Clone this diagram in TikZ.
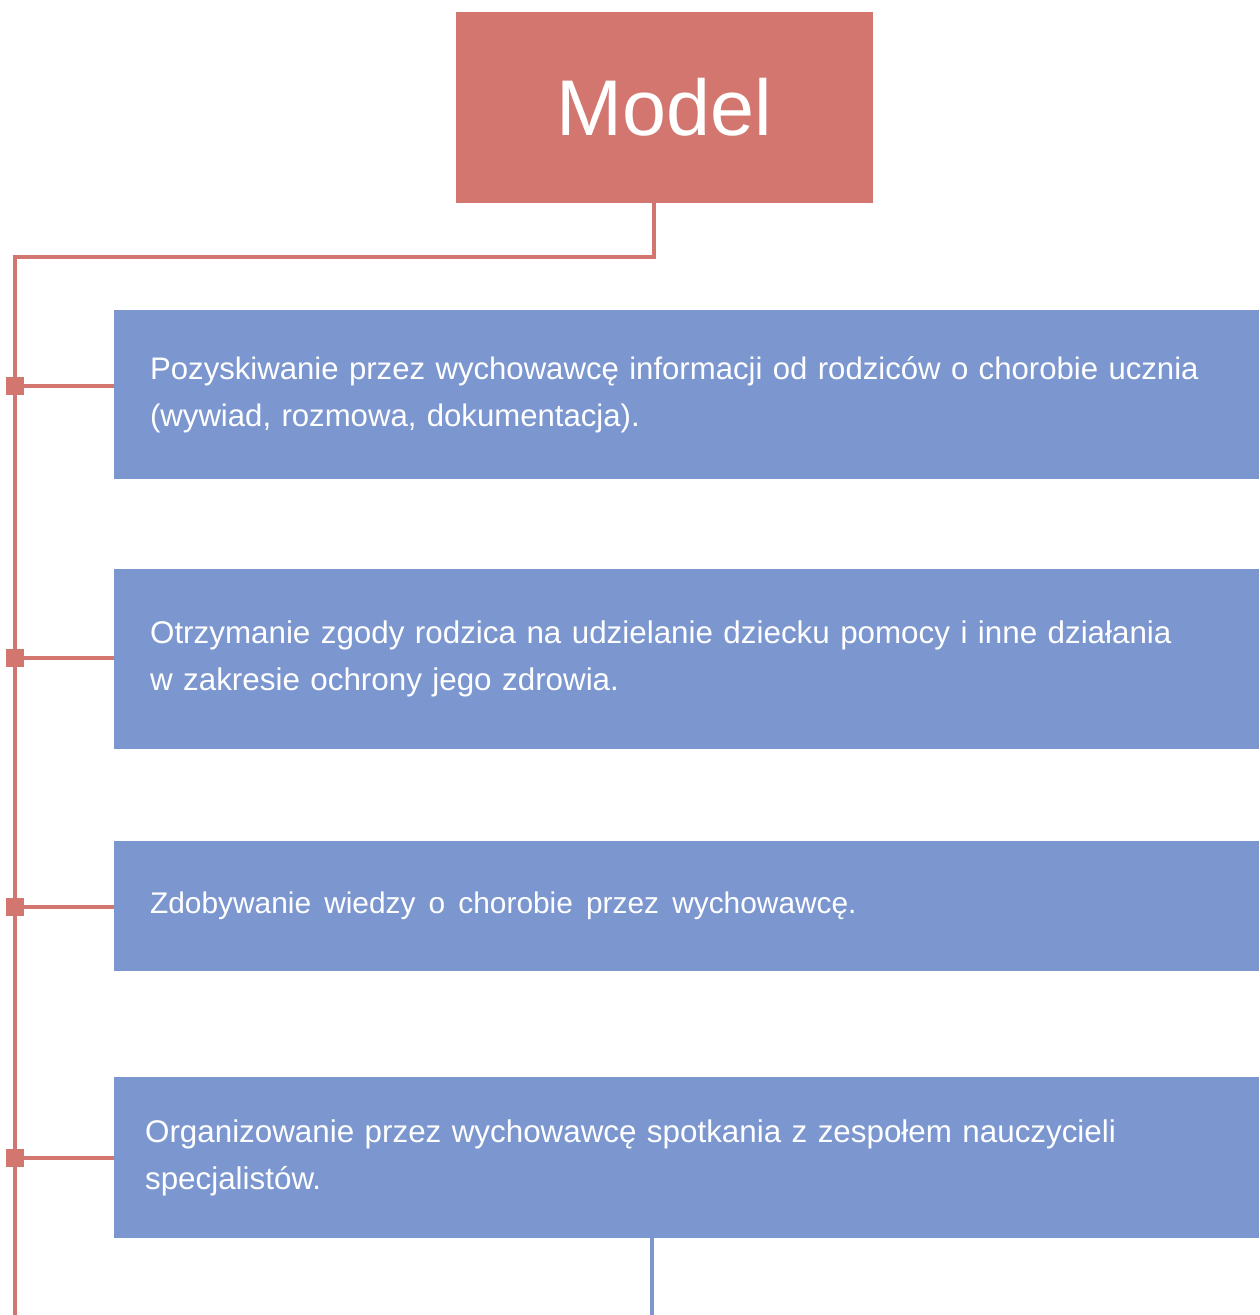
\documentclass[tikz,border=0pt]{standalone}
\usepackage{fontspec}
\setmainfont{Liberation Sans}
\definecolor{modelred}{HTML}{D37670}
\definecolor{stepblue}{HTML}{7C97D0}

\begin{document}
\begin{tikzpicture}[x=0.02cm, y=-0.02cm,
    stepbox/.style={draw=none, rectangle, fill=stepblue, text=white, minimum width=22.9cm,
        text width=21.46cm, inner xsep=0.72cm, align=left,
        font=\fontsize{17.85}{26.7}\selectfont},
    link/.style={draw=modelred, line width=2.1pt},
    sq/.style={rectangle, fill=modelred, minimum size=0.35cm, inner sep=0pt}]

        \useasboundingbox (0,0) rectangle (1259,1315);

        \node[name=model, rectangle, fill=modelred, text=white, minimum width=8.34cm, minimum height=3.82cm,
            font=\fontsize{45}{50}\selectfont] at (664.5,107.5) {Model};

        \node[name=b1, stepbox, minimum height=3.38cm, font=\fontsize{17.72}{26.7}\selectfont] at (686.5,394.5)
            {Pozyskiwanie przez wychowawcę informacji od rodziców o chorobie ucznia\\(wywiad, rozmowa, dokumentacja).};
        \node[name=b2, stepbox, minimum height=3.6cm] at (686.5,659)
            {Otrzymanie zgody rodzica na udzielanie dziecku pomocy i inne działania\\w zakresie ochrony jego zdrowia.};
        \node[name=b3, stepbox, minimum height=2.6cm, font=\fontsize{17}{26.7}\selectfont] at (686.5,906)
            {\spaceskip=0.44em Zdobywanie wiedzy o chorobie przez wychowawcę.};
        \node[name=b4, stepbox, minimum height=3.22cm, inner xsep=0.62cm, text width=21.66cm] at (686.5,1157.5)
            {Organizowanie przez wychowawcę spotkania z zespołem nauczycieli\\specjalistów.};

        \coordinate (drop) at (654,203);
        \coordinate (corner) at (15,257);
        \coordinate (trunkend) at (15,1315);
        \coordinate (bottomend) at (652,1315);

        \draw[link] (drop) |- (corner) -- (trunkend);
        \draw[draw=stepblue, line width=2.1pt] (b4.south -| bottomend) -- (bottomend);

        \foreach \i/\y in {1/386, 2/658, 3/907, 4/1158}
            {
                \node[name=s\i, sq] at (15,\y) {};
                \draw[link] (s\i.center) -- (s\i.center -| b\i.west);
            }
    \end{tikzpicture}
\end{document}
